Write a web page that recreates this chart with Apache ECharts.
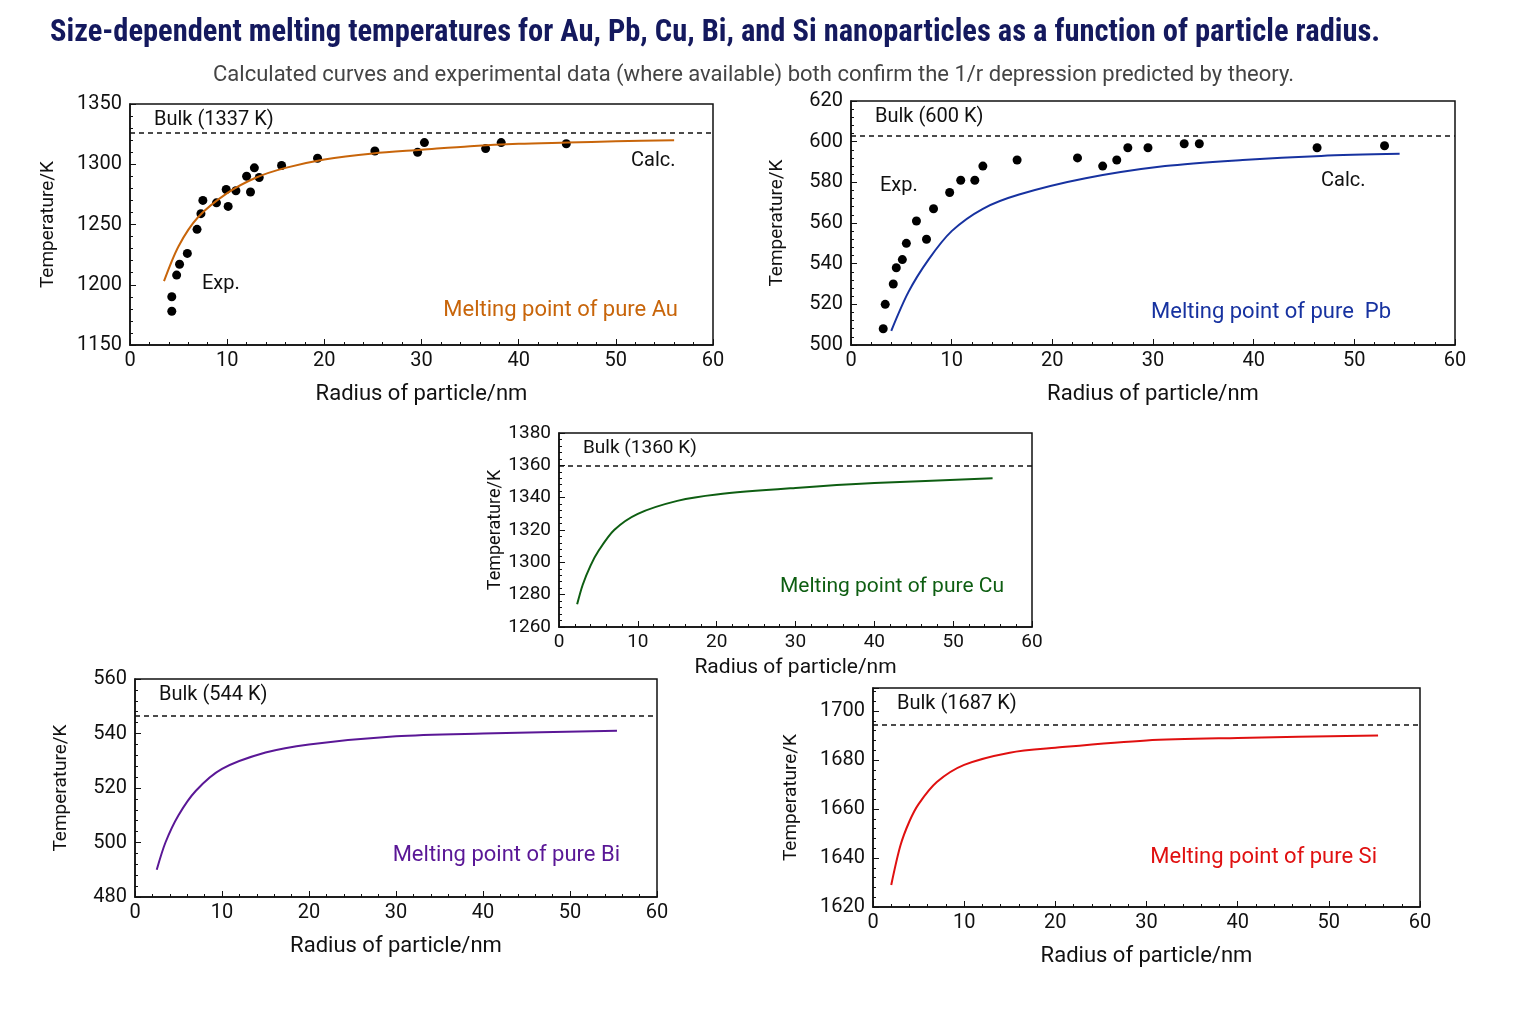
<!DOCTYPE html>
<html lang="en">
<head>
<meta charset="UTF-8" />
<script src="https://cdn.jsdelivr.net/npm/echarts@6/dist/echarts.min.js"></script>
<style>
  html, body { margin: 0; overflow: hidden; background: #fff; }
  #viewport { position: absolute; left: 0; top: 0; width: 1536px; height: 1024px; }
</style>
</head>
<body>
<div id="viewport"></div>
<script>
// ---- data ----
var auExp = [[4.3,1178],[4.3,1190],[4.8,1208],[5.1,1217],[5.9,1226],[6.9,1246],[7.3,1259],[7.5,1270],
  [8.9,1268],[9.9,1279],[10.1,1265],[10.9,1278],[12.0,1290],[12.4,1277],[12.8,1297],[13.3,1289],
  [15.6,1299],[19.3,1305],[25.2,1311],[29.6,1310],[30.3,1318],[36.6,1313],[38.2,1318],[44.9,1317]];
var auCalc = [[3.5,1203],[5,1232],[7,1256],[10,1276],[13,1289],[16,1297],[20,1304],[25,1309],
  [30,1312],[35,1315],[40,1317],[45,1318],[50,1319],[56,1320]];
var pbExp = [[3.2,508],[3.4,520],[4.2,530],[4.5,538],[5.1,542],[5.5,550],[6.5,561],[7.5,552],
  [8.2,567],[9.8,575],[10.9,581],[12.3,581],[13.1,588],[16.5,591],[22.5,592],[25.0,588],
  [26.4,591],[27.5,597],[29.5,597],[33.1,599],[34.6,599],[46.3,597],[53.0,598]];
var pbCalc = [[4.0,507],[5.7,526],[7.7,542],[10,556],[13.1,567],[16.7,574],[23.3,582],
  [31.2,588],[38.9,591],[46.7,593],[54.5,594]];
var cuCalc = [[2.3,1274],[3,1286],[4,1298],[5,1307],[7,1320],[10,1330],[15,1338],[20,1342],
  [30,1346],[40,1349],[55,1352]];
var biCalc = [[2.5,490],[3.5,500],[5,510],[7,519],[10,527],[15,533],[20,536],[30,539],[40,540],[55.4,541]];
var siCalc = [[2.0,1629],[3,1645],[4,1655],[5,1662],[7,1671],[10,1678],[15,1683],[20,1685],
  [30,1688],[40,1689],[55.4,1690]];
var bulkLines = { au: 1326, pb: 603, cu: 1360, bi: 546.5, si: 1694.5 };
var bulkLabels = { au: 'Bulk (1337 K)', pb: 'Bulk (600 K)', cu: 'Bulk (1360 K)', bi: 'Bulk (544 K)', si: 'Bulk (1687 K)' };

var chart = echarts.init(document.getElementById('viewport'));
var FONT = 'Roboto, "Noto Sans", sans-serif';
var panels = [
  { key: 'au', grid: { left: 130, top: 104, width: 583, height: 241 }, y: [1150, 1350, 50], fs: 19, color: '#c8650a', lbl: 'Melting point of pure Au', lr: 35, lb: 46 },
  { key: 'pb', grid: { left: 851, top: 101, width: 604, height: 244 }, y: [500, 620, 20], fs: 19, color: '#1732a0', lbl: 'Melting point of pure  Pb', lr: 64, lb: 44 },
  { key: 'cu', grid: { left: 559, top: 433, width: 473, height: 194 }, y: [1260, 1380, 20], fs: 18, color: '#0e5e12', lbl: 'Melting point of pure Cu', lr: 28, lb: 51 },
  { key: 'bi', grid: { left: 135, top: 679, width: 522, height: 218 }, y: [480, 560, 20], fs: 19, color: '#5a1796', lbl: 'Melting point of pure Bi', lr: 37, lb: 53 },
  { key: 'si', grid: { left: 873, top: 688, width: 547, height: 219 }, y: [1620, 1709.4, 20], fs: 19, color: '#e01010', lbl: 'Melting point of pure Si', lr: 43, lb: 61 }
];
var calcData = { au: auCalc, pb: pbCalc, cu: cuCalc, bi: biCalc, si: siCalc };
var expData = { au: auExp, pb: pbExp };

var grids = [], xAxes = [], yAxes = [], series = [], graphics = [];
panels.forEach(function (p, i) {
  grids.push(Object.assign({ show: true, borderColor: '#111', borderWidth: 1.5 }, p.grid));
  var tick = { show: true, inside: true, length: 6, lineStyle: { color: '#111' } };
  var minor = { show: true, splitNumber: 5, length: 3, lineStyle: { color: '#111' } };
  var fmt = function (v) { return String(v); };
  xAxes.push({ gridIndex: i, type: 'value', min: 0, max: 60, interval: 10,
    axisLine: { lineStyle: { color: '#111', width: 1.5 } }, axisTick: tick, minorTick: minor, splitLine: { show: false },
    axisLabel: { color: '#111', fontSize: p.fs + 1, fontFamily: FONT, margin: 6, formatter: fmt },
    name: 'Radius of particle/nm', nameLocation: 'middle', nameGap: p.key === 'cu' ? 30 : 38,
    nameTextStyle: { color: '#111', fontSize: p.fs + 3, fontFamily: FONT } });
  yAxes.push({ gridIndex: i, type: 'value', min: p.y[0], max: p.y[1], interval: p.y[2],
    axisLine: { lineStyle: { color: '#111', width: 1.5 } }, axisTick: tick, minorTick: minor, splitLine: { show: false },
    axisLabel: { color: '#111', fontSize: p.fs + 1, fontFamily: FONT, margin: 8, showMaxLabel: p.key !== 'si', formatter: fmt },
    name: 'Temperature/K', nameLocation: 'middle', nameGap: p.key === 'cu' ? 52 : (p.key === 'au' || p.key === 'si' ? 72 : 64),
    nameTextStyle: { color: '#111', fontSize: p.fs, fontFamily: FONT } });
  series.push({ type: 'line', xAxisIndex: i, yAxisIndex: i, data: calcData[p.key], smooth: 0.3, showSymbol: false,
    lineStyle: { color: p.color, width: 2 }, silent: true,
    markLine: { symbol: 'none', silent: true, label: { show: false },
      lineStyle: { color: '#111', type: [5, 4], width: 1.5 }, data: [{ yAxis: bulkLines[p.key] }] } });
  if (expData[p.key]) {
    series.push({ type: 'scatter', xAxisIndex: i, yAxisIndex: i, data: expData[p.key], symbolSize: 9,
      itemStyle: { color: '#000', opacity: 1 }, silent: true });
  }
  var g = p.grid;
  graphics.push({ type: 'text', left: g.left + 24, top: g.top + 6,
    style: { text: bulkLabels[p.key], fontSize: p.fs + 1, fontFamily: FONT, fill: '#111' } });
  graphics.push({ type: 'text', right: 1536 - g.left - g.width + p.lr, top: g.top + g.height - p.lb,
    style: { text: p.lbl, fontSize: p.fs + 3, fontFamily: FONT, fill: p.color } });
});
graphics.push({ type: 'text', left: 202, top: 274, style: { text: 'Exp.', fontSize: 20, fontFamily: FONT, fill: '#111' } });
graphics.push({ type: 'text', left: 631, top: 151, style: { text: 'Calc.', fontSize: 20, fontFamily: FONT, fill: '#111' } });
graphics.push({ type: 'text', left: 880, top: 176, style: { text: 'Exp.', fontSize: 20, fontFamily: FONT, fill: '#111' } });
graphics.push({ type: 'text', left: 1321, top: 171, style: { text: 'Calc.', fontSize: 20, fontFamily: FONT, fill: '#111' } });

chart.setOption({
  animation: false,
  backgroundColor: '#fff',
  title: [
    { text: 'Size-dependent melting temperatures for Au, Pb, Cu, Bi, and Si nanoparticles as a function of particle radius.',
      left: 45, top: 13, textStyle: { color: '#14195e', fontSize: 30.5, fontWeight: 'bold', fontFamily: '"Roboto Condensed", "Liberation Sans Narrow", Roboto, sans-serif' } },
    { text: 'Calculated curves and experimental data (where available) both confirm the 1/r depression predicted by theory.',
      left: 208, top: 59, textStyle: { color: '#444', fontSize: 22, fontWeight: 'normal', fontFamily: FONT } }
  ],
  grid: grids, xAxis: xAxes, yAxis: yAxes, series: series, graphic: graphics
});
</script>
</body>
</html>
